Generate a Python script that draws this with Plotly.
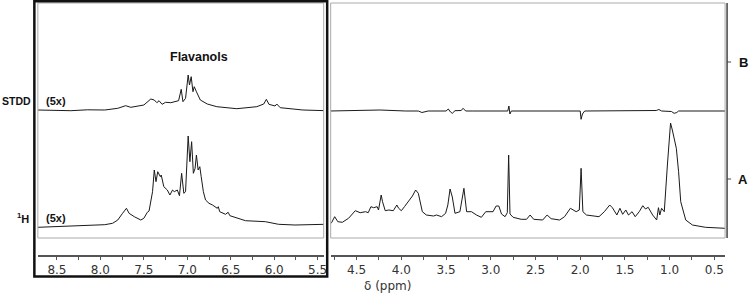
import plotly.graph_objects as go

# ---- data (ppm, intensity) ----
h_left_ppm = [8.72, 8.49, 8.15, 7.95, 7.86, 7.80, 7.745, 7.70, 7.67, 7.61, 7.535, 7.50, 7.46, 7.44, 7.40, 7.38,
              7.36, 7.34, 7.31, 7.30, 7.27, 7.23, 7.20, 7.17, 7.15, 7.115, 7.09, 7.065, 7.04, 7.02, 6.99, 6.97,
              6.95, 6.93, 6.91, 6.895, 6.875, 6.856, 6.84, 6.815, 6.79, 6.75, 6.71, 6.655, 6.643, 6.627, 6.56,
              6.53, 6.51, 6.44, 6.33, 6.10, 5.95, 5.76, 5.41]
h_left_int = [27.7, 28.3, 29.3, 30.3, 31.7, 35, 41.7, 46.7, 41.7, 38.3, 35, 36.7, 42.7, 44, 63.3, 85,
              73.3, 83.3, 78.3, 80, 68.3, 65, 60, 65, 63.3, 65, 59.3, 81.7, 61.7, 63.3, 119, 93.3,
              113.3, 81.7, 86.7, 100, 85, 88.3, 78.3, 63.3, 55, 51.7, 50, 46.7, 48.3, 43.3, 40.7,
              42.7, 39.3, 37.3, 34.3, 33.3, 30.7, 30, 30.7]

stdd_left_ppm = [8.72, 8.55, 8.34, 8.15, 7.95, 7.80, 7.71, 7.65, 7.50, 7.42, 7.38, 7.35, 7.325, 7.29, 7.25,
                 7.19, 7.10, 7.07, 7.05, 7.02, 6.99, 6.975, 6.955, 6.935, 6.92, 6.895, 6.85, 6.77, 6.66,
                 6.43, 6.20, 6.12, 6.09, 6.06, 5.99, 5.97, 5.93, 5.67, 5.40]
stdd_left_int = [145, 144.5, 144.3, 145.2, 145, 146.7, 149.3, 147.7, 150, 156, 155, 152.3, 154.3, 150.7, 152.7,
                 152.3, 154.3, 165.7, 153.3, 156.7, 180, 170, 178.3, 163.3, 168.3, 163.3, 155, 151, 148.3,
                 146.3, 148.3, 151, 155.7, 150.7, 149, 151, 147.3, 145, 144.3]

h_right_ppm = [4.81, 4.78, 4.745, 4.71, 4.66, 4.59, 4.515, 4.46, 4.40, 4.37, 4.34, 4.31, 4.27, 4.255, 4.225,
               4.21, 4.18, 4.14, 4.09, 4.05, 4.03, 4.00, 3.965, 3.93, 3.90, 3.876, 3.84, 3.81, 3.765, 3.72,
               3.64, 3.606, 3.55, 3.505, 3.48, 3.455, 3.43, 3.40, 3.345, 3.30, 3.27, 3.215, 3.16, 3.105,
               3.056, 2.975, 2.94, 2.91, 2.88, 2.84, 2.815, 2.80, 2.785, 2.75, 2.66, 2.60, 2.56, 2.52,
               2.42, 2.37, 2.325, 2.23, 2.175, 2.11, 2.045, 2.01, 1.99, 1.97, 1.93, 1.86, 1.79, 1.73,
               1.67, 1.64, 1.59, 1.556, 1.525, 1.49, 1.46, 1.42, 1.385, 1.34, 1.30, 1.27, 1.24, 1.19,
               1.145, 1.125, 1.11, 1.09, 1.06, 1.025, 1.005, 0.99, 0.97, 0.95, 0.94, 0.925, 0.90, 0.876,
               0.82, 0.745, 0.60, 0.45, 0.38]
h_right_int = [30, 32.3, 38.3, 33.3, 32.7, 36.7, 44.3, 42.3, 43.3, 42.3, 48.3, 47.3, 48.3, 45, 60,
               53.3, 44.3, 45, 44.3, 50, 46.7, 44.3, 48.3, 52.3, 55.7, 59, 65, 61.7, 43.3, 40,
               39, 40, 38.3, 41.7, 50, 66, 58, 41.7, 43.3, 66.7, 43.3, 43.3, 40, 37.7,
               43.3, 43.3, 49, 49, 41, 38.3, 42.3, 100, 41, 37.7, 35.7, 35.7, 40, 35.7,
               35, 40, 36.3, 35, 38.3, 46.7, 43.3, 45, 86.7, 43.3, 40, 39.5, 38.3, 43.3,
               50, 47.3, 40, 46.7, 40.7, 45, 40, 43.3, 38.3, 43.3, 49.3, 46, 47.7, 40,
               35, 47.3, 40, 46.7, 43.3, 90, 113.3, 132, 125, 116.7, 115, 106.7, 83.3, 53.3,
               35, 30, 27.7, 27.3, 26.7]

stdd_right_ppm = [4.80, 4.24, 3.95, 3.81, 3.77, 3.70, 3.50, 3.475, 3.45, 3.43, 3.40, 3.33, 3.31, 3.28, 3.20,
                  2.81, 2.797, 2.786, 2.77, 2.00, 1.99, 1.975, 1.95, 1.15, 1.12, 1.09, 0.98, 0.95, 0.92,
                  0.90, 0.38]
stdd_right_int = [144, 145, 144, 144, 142.5, 144, 144, 146, 143, 141.7, 144.3, 144.5, 146.7, 144, 144,
                  144, 149, 141, 144, 144, 135.7, 141, 144, 144.5, 145.5, 144, 143.5, 141.7, 142.5,
                  144, 144]

left_ticks = [8.5, 8.0, 7.5, 7.0, 6.5, 6.0, 5.5]
right_ticks = [4.5, 4.0, 3.5, 3.0, 2.5, 2.0, 1.5, 1.0, 0.5]

W, H = 750, 293
def px(x):
    return x / W
def py(y):
    return (H - y) / H

line_style = dict(color="#1a1a1a", width=1)
fig = go.Figure()
fig.add_trace(go.Scatter(x=h_left_ppm, y=h_left_int, mode="lines", line=line_style, xaxis="x", yaxis="y"))
fig.add_trace(go.Scatter(x=stdd_left_ppm, y=stdd_left_int, mode="lines", line=line_style, xaxis="x", yaxis="y"))
fig.add_trace(go.Scatter(x=h_right_ppm, y=h_right_int, mode="lines", line=line_style, xaxis="x2", yaxis="y"))
fig.add_trace(go.Scatter(x=stdd_right_ppm, y=stdd_right_int, mode="lines", line=line_style, xaxis="x2", yaxis="y"))

tickfont = dict(family="DejaVu Sans", size=12, color="#333333")
axis_common = dict(showline=True, linecolor="#555555", linewidth=1.5, ticks="outside", ticklen=3,
                   tickcolor="#555555", tickfont=tickfont, showgrid=False, zeroline=False,
                   minor=dict(dtick=0.25, ticks="outside", ticklen=3, tickcolor="#555555"),
                   anchor="y", fixedrange=True)

fig.update_layout(
    width=W, height=H, margin=dict(l=0, r=0, t=0, b=0),
    paper_bgcolor="white", plot_bgcolor="white", showlegend=False,
    xaxis=dict(domain=[px(38), px(325)], range=[8.72, 5.43], tickvals=left_ticks,
               ticktext=[f"{v:.1f}" for v in left_ticks], tick0=0, **axis_common),
    xaxis2=dict(domain=[px(332), px(728)], range=[4.79, 0.38], tickvals=right_ticks,
                ticktext=[f"{v:.1f}" for v in right_ticks], tick0=0, **axis_common),
    yaxis=dict(domain=[py(255), py(3)], range=[0, 252], visible=False, fixedrange=True),
)

shapes = []
# gray panel boxes
for x0, x1 in [(38, 325), (332, 728)]:
    shapes.append(dict(type="rect", xref="paper", yref="paper", x0=px(x0), x1=px(x1), y0=py(238), y1=py(3),
                       line=dict(color="#aaaaaa", width=1)))
# thick black box
shapes.append(dict(type="rect", xref="paper", yref="paper", x0=px(34.5), x1=px(328.5), y0=py(276.5), y1=py(1.2),
                   line=dict(color="#111111", width=2.5)))
# right vertical scale line with ticks
shapes.append(dict(type="line", xref="paper", yref="paper", x0=px(730), x1=px(730), y0=py(238), y1=py(3),
                   line=dict(color="#444444", width=1.5)))
for yy in [62, 179]:
    shapes.append(dict(type="line", xref="paper", yref="paper", x0=px(730), x1=px(734), y0=py(yy), y1=py(yy),
                       line=dict(color="#444444", width=1)))
fig.update_layout(shapes=shapes)

bold = dict(family="Liberation Sans", size=11, color="#111111")
ann = []
def add(text, x, y, xanchor="center", size=11):
    ann.append(dict(text=text, x=px(x), y=py(y), xref="paper", yref="paper", showarrow=False,
                    xanchor=xanchor, yanchor="middle", font=dict(bold, size=size)))
add("<b>STDD</b>", 0, 101, "left", 10.5)
add("<b>(5x)</b>", 44, 101, "left")
add("<b><sup>1</sup>H</b>", 31, 218, "right")
add("<b>(5x)</b>", 44, 218, "left")
add("<b>Flavanols</b>", 200, 57, "center", 12.5)
add("<b>B</b>", 746, 62, "center", 13)
add("<b>A</b>", 746, 179, "center", 13)
ann.append(dict(text="δ (ppm)", x=px(389), y=py(286), xref="paper", yref="paper", showarrow=False,
                xanchor="center", yanchor="middle", font=tickfont))
fig.update_layout(annotations=ann)

fig.write_html("out.html", config={"displayModeBar": False},
               post_script="document.body.style.margin='0';document.body.style.overflow='hidden';")
